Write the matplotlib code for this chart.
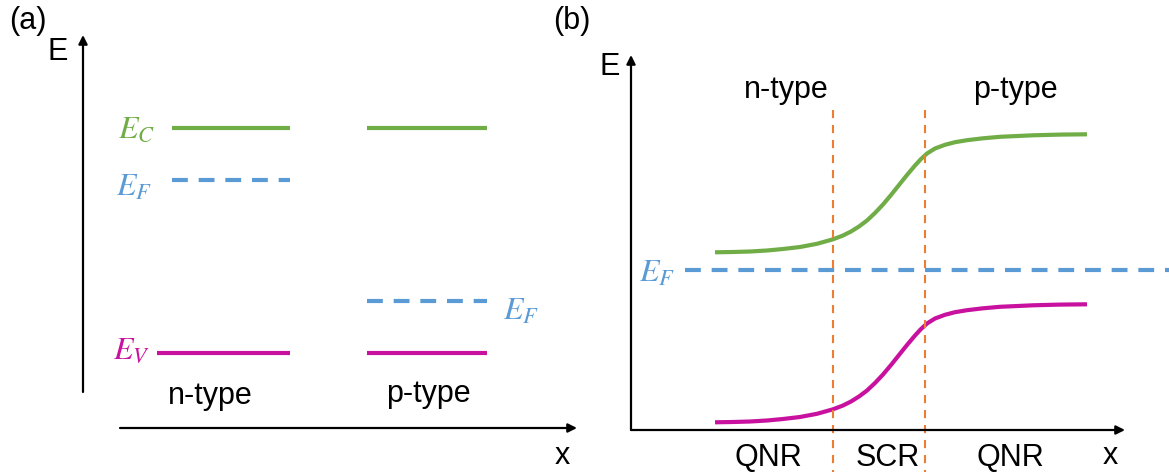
import numpy as np
import matplotlib.pyplot as plt

plt.rcParams['font.family'] = ['Liberation Sans', 'DejaVu Sans']
plt.rcParams['mathtext.fontset'] = 'stix'

GREEN = '#70AD47'
BLUE = '#5B9BD5'
MAGENTA = '#C8119E'
ORANGE = '#ED7D31'

# (a) flat bands of the separate n- and p-type pieces (screen units, y grows downwards)
n_span = [172, 290]
p_span = [367, 487]
ev_n_start = 157
ec_a = [128, 128]      # n, p
ef_a = [180, 301]      # n, p
ev_a = [353, 353]      # n, p

# (b) band edges across the junction
band_x = [715, 733, 750, 767, 783, 800, 817, 833, 843, 851, 859, 867, 875,
          883, 891, 899, 907, 915, 921, 927, 935, 945, 955, 967, 983, 1000,
          1033, 1060, 1087]
ec_b = [252.3, 252.0, 251.5, 250.5, 249.0, 247.0, 243.8, 239.3, 235.5, 231.5,
        226.5, 220.5, 213.0, 204.5, 195.0, 185.0, 175.0, 165.5, 159.0, 153.5,
        148.5, 144.8, 142.2, 140.2, 138.3, 136.8, 135.3, 134.6, 134.3]
band_gap = 170
ef_b = 270
ef_b_span = [685, 1169]
scr_edges = [833, 925]
region_labels = ['QNR', 'SCR', 'QNR']
region_x = [768, 888, 1010]

fig = plt.figure(figsize=(11.69, 4.72), dpi=100)
ax = fig.add_axes([0, 0, 1, 1])
ax.set_xlim(0, 1169)
ax.set_ylim(472, 0)
ax.axis('off')

lw_band = 3.0
dash = (3.8, 2.6)


def axis_arrow(start, end):
    ax.annotate('', xy=end, xytext=start,
                arrowprops=dict(arrowstyle='-|>', lw=1.6, color='black',
                                mutation_scale=13, shrinkA=0, shrinkB=0))


# ---- panel (a) ----
axis_arrow((83, 392), (83, 35))
axis_arrow((120, 428), (577, 428))
ax.text(28, 21, '(a)', fontsize=22, ha='center', va='center')
ax.text(58, 52, 'E', fontsize=22, ha='center', va='center')
ax.text(562, 456, 'x', fontsize=22, ha='center', va='center')

ax.plot(n_span, [ec_a[0]] * 2, color=GREEN, lw=lw_band, solid_capstyle='butt')
ax.plot(p_span, [ec_a[1]] * 2, color=GREEN, lw=lw_band, solid_capstyle='butt')
ax.plot(n_span, [ef_a[0]] * 2, color=BLUE, lw=lw_band, ls=(0, dash), dash_capstyle='butt')
ax.plot(p_span, [ef_a[1]] * 2, color=BLUE, lw=lw_band, ls=(0, dash), dash_capstyle='butt')
ax.plot([ev_n_start, n_span[1]], [ev_a[0]] * 2, color=MAGENTA, lw=lw_band, solid_capstyle='butt')
ax.plot(p_span, [ev_a[1]] * 2, color=MAGENTA, lw=lw_band, solid_capstyle='butt')

ax.text(155, ec_a[0] + 2, r'$E_C$', fontsize=23, color=GREEN, ha='right', va='center')
ax.text(152, ef_a[0] + 8, r'$E_F$', fontsize=23, color=BLUE, ha='right', va='center')
ax.text(150, ev_a[0] - 2, r'$E_V$', fontsize=23, color=MAGENTA, ha='right', va='center')
ax.text(503, ef_a[1] + 11, r'$E_F$', fontsize=23, color=BLUE, ha='left', va='center')

ax.text(210, 396, 'n-type', fontsize=22, ha='center', va='center')
ax.text(428, 394, 'p-type', fontsize=22, ha='center', va='center')

# ---- panel (b) ----
axis_arrow((631, 430), (631, 55))
axis_arrow((631, 430), (1125, 430))
ax.text(572, 21, '(b)', fontsize=22, ha='center', va='center')
ax.text(610, 67, 'E', fontsize=22, ha='center', va='center')
ax.text(1110, 456, 'x', fontsize=22, ha='center', va='center')

ec_b = np.array(ec_b)
ax.plot(band_x, ec_b, color=GREEN, lw=lw_band, solid_capstyle='butt', solid_joinstyle='round')
ax.plot(band_x, ec_b + band_gap, color=MAGENTA, lw=lw_band, solid_capstyle='butt',
        solid_joinstyle='round')
ax.plot(ef_b_span, [ef_b] * 2, color=BLUE, lw=lw_band, ls=(0, dash), dash_capstyle='butt')
ax.text(675, ef_b + 4, r'$E_F$', fontsize=23, color=BLUE, ha='right', va='center')

for xe in scr_edges:
    ax.plot([xe, xe], [110, 472], color=ORANGE, lw=1.5, ls=(0, (3.9, 3.3)))

ax.text(786, 90, 'n-type', fontsize=22, ha='center', va='center')
ax.text(1015, 90, 'p-type', fontsize=22, ha='center', va='center')
for lab, xl in zip(region_labels, region_x):
    ax.text(xl, 458, lab, fontsize=22, ha='center', va='center')

fig.savefig('out.png', dpi=100)
